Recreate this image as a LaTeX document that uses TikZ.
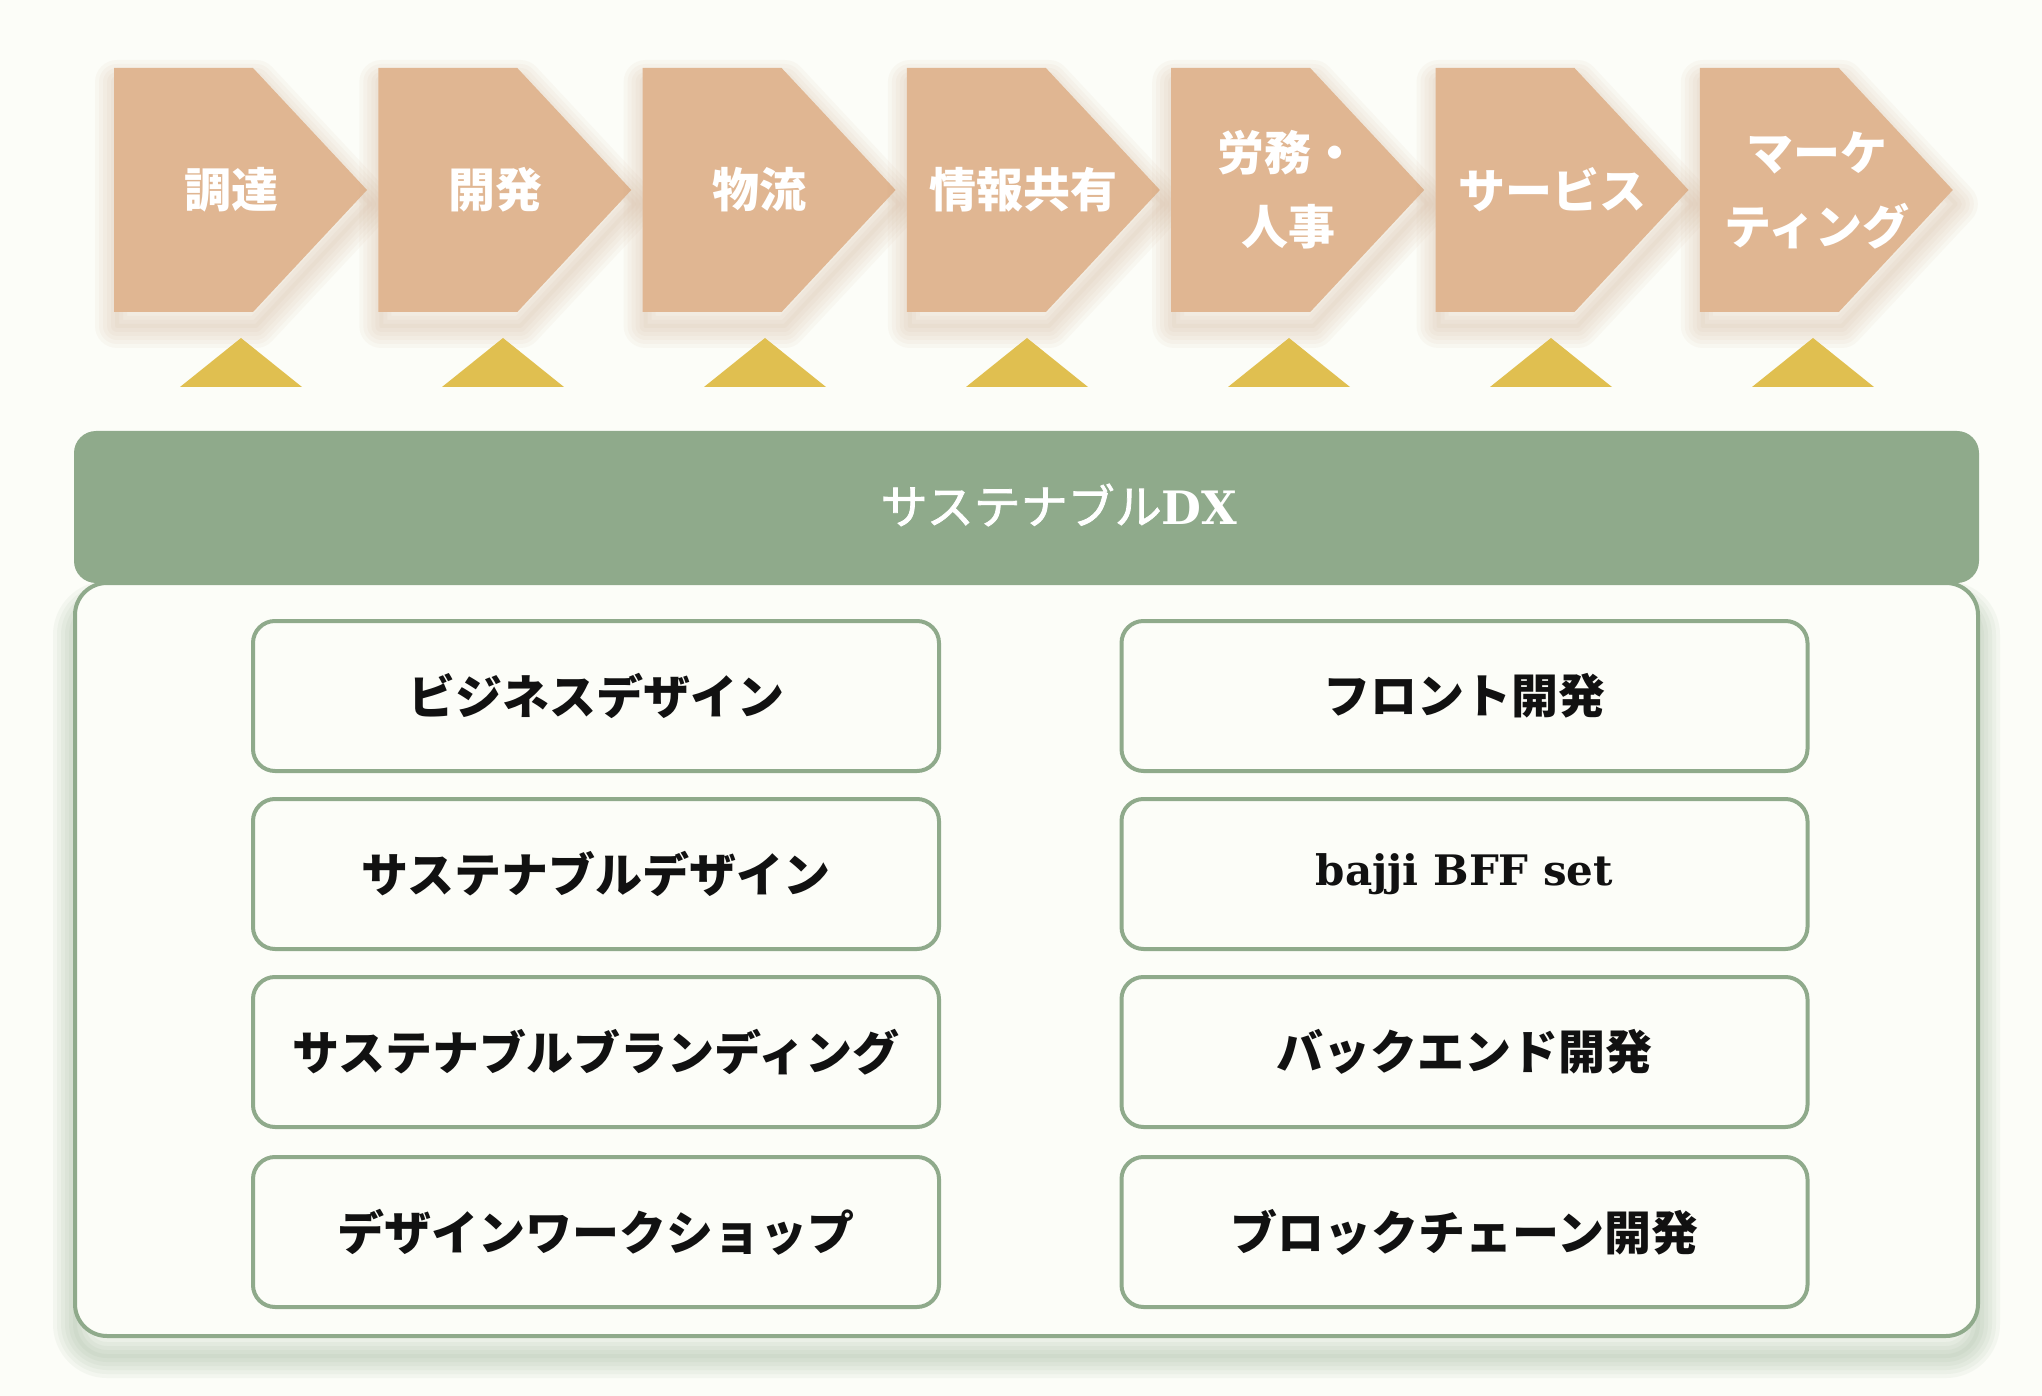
\documentclass[tikz,border=0pt]{standalone}
\usepackage{fontspec}
\newfontfamily\jp{Noto Sans CJK JP}
\newfontfamily\jpm{Noto Sans CJK JP}[FakeBold=1.6]
\newfontfamily\slab{DejaVu Serif}
\definecolor{bg}{HTML}{FCFDF8}
\definecolor{tan}{HTML}{E0B692}
\definecolor{tanshadow}{HTML}{C8A07D}
\definecolor{mustard}{HTML}{E0BF50}
\definecolor{sage}{HTML}{8FAA8B}
\definecolor{ink}{HTML}{111111}
\begin{document}
\begin{tikzpicture}[x=0.5pt,y=-0.5pt,
  lab/.style={text=white, font=\jp\bfseries\fontsize{23.5pt}{37pt}\selectfont, align=center, inner sep=0pt},
  box/.style={draw=sage, line width=2pt, rounded corners=11pt, fill=bg, minimum width=343pt, minimum height=75pt, inner sep=0pt, font=\jp\bfseries\fontsize{23.5pt}{28pt}\selectfont, text=ink},
  blurline/.style={line width=#1*0.5pt, opacity=0.06, line join=round}
]
\fill[bg] (0,0) rectangle (2042,1396);
\path[use as bounding box] (0,0) rectangle (2042,1396);

% value chain arrows
\foreach \lab [count=\i from 0] in {調達,開発,物流,情報共有,{労務・\\人事},サービス,{マーケ\\ティング}} {
  \pgfmathsetmacro\L{114+264.3*\i}
  \begin{scope}[shift={(3,14)}]
    \foreach \w in {44,36,28,20,12,4}
      \draw[tanshadow, blurline=\w] (\L,68) -- (\L+139,68) -- (\L+253,190) -- (\L+139,312) -- (\L,312) -- cycle;
  \end{scope}
  \fill[tan] (\L,68) -- (\L+139,68) -- (\L+253,190) -- (\L+139,312) -- (\L,312) -- cycle;
  \node[lab] (a\i) at (\L+117,190) {\lab};
}

% triangles
\foreach \i in {0,...,6} {
  \pgfmathsetmacro\c{241+262*\i}
  \fill[mustard] (\c,338) -- (\c+61,387) -- (\c-61,387) -- cycle;
}

% container shadow
\begin{scope}[shift={(0,20)}]
  \foreach \w in {44,36,28,20,12,4}
    \draw[sage, blurline=\w, opacity=0.08, rounded corners=16pt] (75,583) rectangle (1978,1336);
\end{scope}
% container
\draw[sage, line width=2pt, fill=bg, rounded corners=16pt] (75,583) rectangle (1978,1336);

% header
\node[fill=sage, rounded corners=11pt, minimum width=952.5pt, minimum height=76pt, inner sep=0pt] (hdr) at (1026.5,507) {};
\node[text=white, inner sep=0pt, font=\fontsize{23.5pt}{28pt}\selectfont] (title) at (1059,505) {{\jpm サステナブル}{\slab\bfseries\fontsize{23pt}{28pt}\selectfont DX}};

% service boxes
\node[box] (l1) at (596,696) {ビジネスデザイン};
\node[box] (l2) at (596,874) {サステナブルデザイン};
\node[box] (l3) at (596,1052) {サステナブルブランディング};
\node[box] (l4) at (596,1232) {デザインワークショップ};
\node[box] (r1) at (1464.5,696) {フロント開発};
\node[box] (r2) at (1464.5,874) {{\slab\bfseries\fontsize{21pt}{24pt}\selectfont bajji BFF set}};
\node[box] (r3) at (1464.5,1052) {バックエンド開発};
\node[box] (r4) at (1464.5,1232) {ブロックチェーン開発};
\end{tikzpicture}
\end{document}
